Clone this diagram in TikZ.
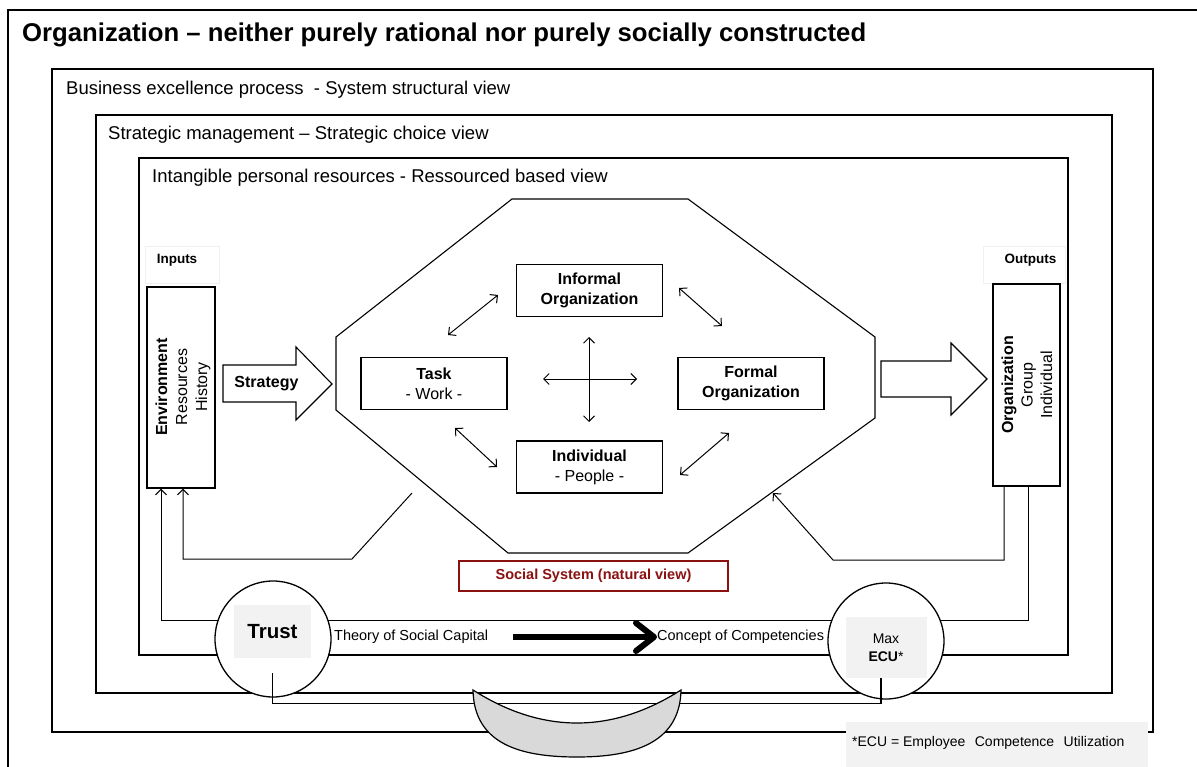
\documentclass[tikz,border=0pt]{standalone}
\usepackage{fontspec}
\setmainfont{Liberation Sans}
\usetikzlibrary{arrows.meta}
\definecolor{boxgray}{HTML}{F2F2F2}
\definecolor{bowlgray}{HTML}{D9D9D9}
\definecolor{socred}{HTML}{8B1111}
\newcommand\fsz[2]{\fontsize{#1}{#2}\selectfont}
\begin{document}
\begin{tikzpicture}[x=1pt,y=-1pt,
  frame/.style={line width=1.5pt},
  framelabel/.style={inner sep=0pt, anchor=base west, font=\fsz{18.5}{22}},
  elembox/.style={draw, line width=1.2pt, minimum width=146pt, minimum height=52pt,
    inner sep=0pt, align=center, font=\fsz{16}{20}},
  sidebox/.style={draw, line width=1.2pt, inner sep=0pt},
  sidetext/.style={rotate=90, align=center, inner sep=0pt, font=\fsz{16}{20}},
  ioframe/.style={draw=black!6, line width=0.6pt, inner sep=0pt, minimum width=#1, minimum height=37pt},
  iolabel/.style={inner sep=0pt, font=\fsz{13.5}{16}\bfseries},
  bigarrow/.style={line width=1.1pt, fill=white},
  arr/.style={line width=1pt, -{Straight Barb[length=5.5pt,width=11pt]}},
  darr/.style={line width=1pt, {Straight Barb[length=5.5pt,width=11pt]}-{Straight Barb[length=5.5pt,width=11pt]}},
  ring/.style={circle, draw, fill=white, line width=1.3pt, minimum size=116pt, inner sep=0pt},
  plain/.style={inner sep=0pt, font=\fsz{14.5}{17}}
]
\useasboundingbox (0,0) rectangle (1197,767);
\fill[white] (0,0) rectangle (1197,767);

% title and nested frames
\node[inner sep=0pt, anchor=base west, font=\fsz{25.7}{30}\bfseries] (title) at (22,42)
  {Organization – neither purely rational nor purely socially constructed};
\draw[frame] (8,767) -- (8,10) -- (1197,10);
\draw[frame] (52,69) rectangle (1153,732);
\draw[frame] (96,115) rectangle (1112,693);
\draw[frame] (139,158) rectangle (1068,655);
\node[framelabel] (bep) at (66,94.5) {Business excellence process\ \ - System structural view};
\node[framelabel] (smg) at (108,139.5) {Strategic management – Strategic choice view};
\node[framelabel] (ipr) at (152,182.5) {Intangible personal resources - Ressourced based view};

% octagon of the social system
\draw[line width=1.1pt] (512,199) -- (688,199) -- (875,337) -- (875,418) -- (688,553)
  -- (508,553) -- (336,410) -- (336,337) -- cycle;

% block arrows
\draw[bigarrow] (223,365) -- (296,365) -- (296,347) -- (332,384) -- (296,420) -- (296,402) -- (223,402) -- cycle;
\node[inner sep=0pt, font=\fsz{16}{19}\bfseries] (strat) at (266.5,383.5) {Strategy};
\draw[bigarrow] (881,361) -- (951,361) -- (951,343) -- (987,379) -- (951,415) -- (951,397) -- (881,397) -- cycle;

% inputs and outputs
\node[ioframe=74pt] (inframe) at (182,264.5) {};
\node[iolabel] (inputs) at (177,260) {Inputs};
\node[ioframe=82pt] (outframe) at (1024,264.5) {};
\node[iolabel] (outputs) at (1030.5,260) {Outputs};
\node[sidebox, minimum width=68pt, minimum height=201pt] (env) at (181,387.5) {};
\node[sidetext] (envtext) at (183,387) {\textbf{Environment}\\Resources\\History};
\node[sidebox, minimum width=67pt, minimum height=202pt] (out) at (1026.5,385) {};
\node[sidetext, font=\fsz{16}{19.5}] (outtext) at (1027,385) {\textbf{Organization}\\Group\\Individual};

% elements of the organization
\node[elembox] (task) at (434,383.5) {\textbf{Task}\\- Work -};
\node[elembox] (inf) at (589.5,290.5) {\textbf{Informal}\\\textbf{Organization}};
\node[elembox] (formal) at (751,383.5) {\textbf{Formal}\\\textbf{Organization}};
\node[elembox] (indiv) at (589.5,467) {\textbf{Individual}\\- People -};

% interactions
\coordinate (ti1) at (448,335); \coordinate (ti2) at (498,295);
\coordinate (if1) at (679,288); \coordinate (if2) at (722,326);
\coordinate (tp1) at (455,428); \coordinate (tp2) at (497,467);
\coordinate (pf1) at (680,475); \coordinate (pf2) at (729,433);
\coordinate (ch1) at (543,379); \coordinate (ch2) at (637,379);
\coordinate (cv1) at (589,337); \coordinate (cv2) at (589,422);
\draw[darr] (ti1) -- (ti2);
\draw[darr] (if1) -- (if2);
\draw[darr] (tp1) -- (tp2);
\draw[darr] (pf1) -- (pf2);
\draw[darr] (ch1) -- (ch2);
\draw[darr] (cv1) -- (cv2);

% feedback loops
\coordinate (fbl) at (412,493);
\coordinate (fbr) at (773,493);
\draw[arr] (fbl) -- (352,559) -| ([xshift=2pt]env.south);
\draw[arr] ([xshift=-22.5pt]out.south) |- (833,560) -- (fbr);
\draw[arr] ([xshift=1.5pt]out.south) |- (161,620) -- ([xshift=-20pt]env.south);

\node[draw=socred, line width=1.2pt, minimum width=269pt, minimum height=30pt, inner sep=0pt,
  text=socred, font=\fsz{14.5}{17}\bfseries] (social) at (593.5,576) {Social\ System\ (natural\ view)};

% trust and competence utilisation
\node[ring] (trustc) at (273,639) {};
\node[fill=boxgray, minimum width=77pt, minimum height=53pt, inner sep=0pt,
  font=\fsz{20.5}{24}\bfseries] (trust) at (272.5,631.5) {Trust};
\node[ring] (ecuc) at (886,641) {};
\node[fill=boxgray, minimum width=81pt, minimum height=61pt, inner sep=0pt, align=center,
  font=\fsz{14}{18}] (ecu) at (886,647.5) {Max\\\textbf{ECU}*};
\node[plain, anchor=west] (tsc) at (334,637) {Theory of Social Capital};
\node[plain, anchor=west] (coc) at (657,637) {Concept of Competencies};
\draw[line width=6pt, shorten <=25pt,
  -{Straight Barb[length=18pt,width=28pt,line cap=round,line join=round]}] (tsc.east) -- (coc.west);
\draw[line width=1.2pt] ([yshift=-15pt]trust.south) -- ++(0,30) -| ([xshift=-5pt]ecu.south);

% bowl linking both ends
\draw[fill=bowlgray, line width=1.2pt] (473,690) .. controls (542,734) and (612,734) .. (681,690)
  .. controls (680,745) and (630,757) .. (577,757)
  .. controls (522,757) and (474,745) .. (473,690) -- cycle;

% footnote
\node[fill=boxgray, minimum width=302pt, minimum height=46pt, inner sep=0pt] (notebg) at (997,745) {};
\node[plain, font=\fsz{14}{17}, anchor=west] (note) at (852,743)
  {*ECU = Employee\hspace{0.4em} Competence\hspace{0.4em} Utilization};
\end{tikzpicture}
\end{document}
